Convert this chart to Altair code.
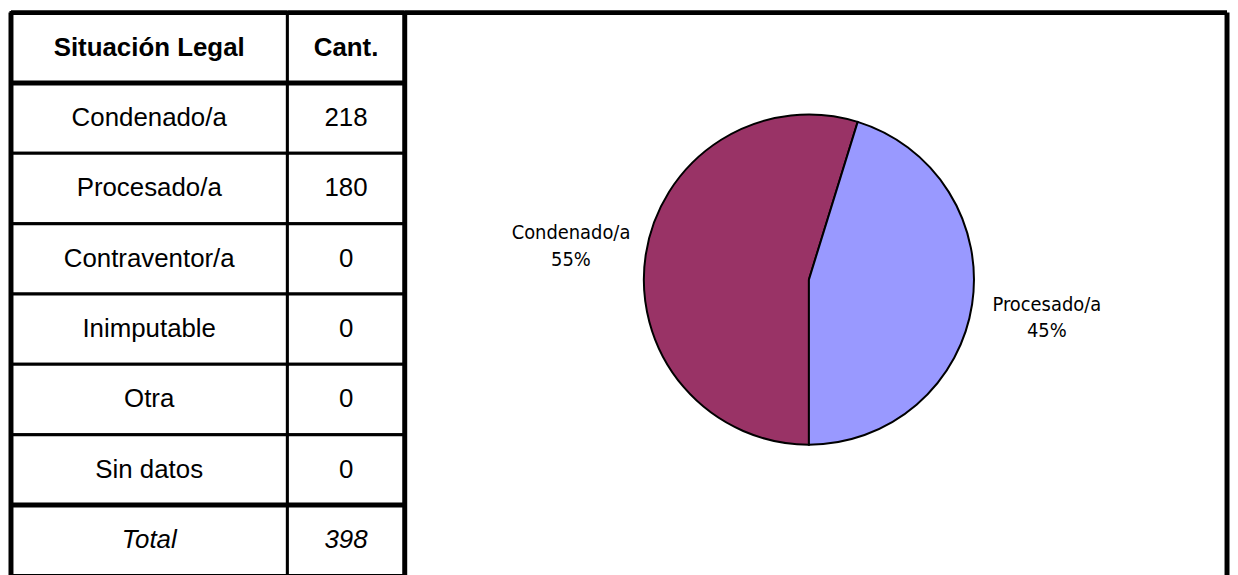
import math
import altair as alt
import pandas as pd

# ---------------- data ----------------
header_labels = ["Situación Legal", "Cant."]
categories = ["Condenado/a", "Procesado/a", "Contraventor/a", "Inimputable", "Otra", "Sin datos"]
counts = [218, 180, 0, 0, 0, 0]
total_label = "Total"
pie_colors = ["#993366", "#9999FF"]

# ---------------- layout / style ----------------
H = 566
W_A = 278
W_B = 118
W_P = 827
PIE_CX = 406.5
PIE_CY = 268.5
PIE_R = 166
LABEL_R = 242
TABLE_FONT = "Liberation Sans, Arial, sans-serif"
LABEL_FONT = "DejaVu Sans Condensed, Liberation Sans Narrow, Arial Narrow, sans-serif"
TABLE_SIZE = 26
LABEL_SIZE = 20

total = sum(counts)
row_keys = ["h"] + [f"r{i}" for i in range(len(categories))] + ["t"]
table = pd.DataFrame({
    "key": row_keys,
    "kind": ["header"] + ["data"] * len(categories) + ["total"],
    "colA": [header_labels[0]] + categories + [total_label],
    "colB": [header_labels[1]] + [str(c) for c in counts] + [str(total)],
})


def Y(**kw):
    return alt.Y("key:N", sort=row_keys, axis=None,
                 scale=alt.Scale(paddingInner=0, paddingOuter=0), **kw)


def column(field, W, left_border=False):
    base = alt.Chart(table)
    layers = [
        base.mark_rect(fill="white", stroke="black", strokeWidth=3).encode(
            y=Y(), x=alt.value(0), x2=alt.value(W)),
    ]
    for kind, style in [("header", {"fontWeight": "bold"}),
                        ("data", {}),
                        ("total", {"fontStyle": "italic"})]:
        layers.append(
            base.transform_filter(alt.datum.kind == kind).mark_text(
                font=TABLE_FONT, fontSize=TABLE_SIZE, color="black",
                align="center", baseline="middle", **style
            ).encode(y=Y(), x=alt.value(W / 2), text=f"{field}:N")
        )
    layers.append(
        base.transform_filter(alt.FieldOneOfPredicate(field="key", oneOf=["r0", "t"]))
        .mark_rule(color="black", strokeWidth=5)
        .encode(y=Y(bandPosition=0), x=alt.value(0), x2=alt.value(W))
    )
    layers.append(
        base.transform_filter(alt.datum.kind == "header").mark_rule(color="black", strokeWidth=5)
        .encode(y=alt.value(0), x=alt.value(0), x2=alt.value(W))
    )
    if left_border:
        layers.append(
            base.transform_filter(alt.datum.kind == "header").mark_rule(color="black", strokeWidth=5)
            .encode(x=alt.value(0), y=alt.value(0), y2=alt.value(H))
        )
    return alt.layer(*layers).properties(width=W, height=H)


colA = column("colA", W_A, left_border=True)
colB = column("colB", W_B)

pie_df = pd.DataFrame({"cat": categories, "value": counts, "ord": list(range(len(categories)))})
pie_base = (
    alt.Chart(pie_df)
    .transform_filter("datum.value > 0")
    .transform_joinaggregate(tot="sum(value)")
    .transform_calculate(label="datum.cat + '\\n' + format(datum.value / datum.tot, '.0%')")
)
theta = alt.Theta("value:Q", stack=True, scale=alt.Scale(range=[math.pi, 3 * math.pi]))
order = alt.Order("ord:Q")

arcs = pie_base.mark_arc(radius=PIE_R, stroke="black", strokeWidth=2).encode(
    theta=theta, order=order,
    color=alt.Color("cat:N", scale=alt.Scale(domain=categories[:2], range=pie_colors), legend=None),
    x=alt.value(PIE_CX), y=alt.value(PIE_CY),
)
labels = pie_base.mark_text(
    radius=LABEL_R, font=LABEL_FONT, fontSize=LABEL_SIZE, color="black",
    align="center", baseline="middle", lineBreak="\n", lineHeight=27, dy=-11,
).encode(theta=theta, order=order, text="label:N", x=alt.value(PIE_CX), y=alt.value(PIE_CY))

frame_base = alt.Chart(pd.DataFrame({"k": [0]}))
frame = [
    frame_base.mark_rule(color="black", strokeWidth=5).encode(y=alt.value(0), x=alt.value(0), x2=alt.value(W_P)),
    frame_base.mark_rule(color="black", strokeWidth=5).encode(x=alt.value(0), y=alt.value(0), y2=alt.value(H)),
    frame_base.mark_rule(color="black", strokeWidth=5).encode(x=alt.value(W_P), y=alt.value(0), y2=alt.value(H)),
]
pie = alt.layer(arcs, labels, *frame).properties(width=W_P, height=H)

chart = (
    alt.hconcat(colA, colB, pie, spacing=0, bounds="flush")
    .properties(padding=0, background="white")
    .configure_view(stroke=None)
)

chart.save("out.html", embed_options={"renderer": "svg", "actions": False})
